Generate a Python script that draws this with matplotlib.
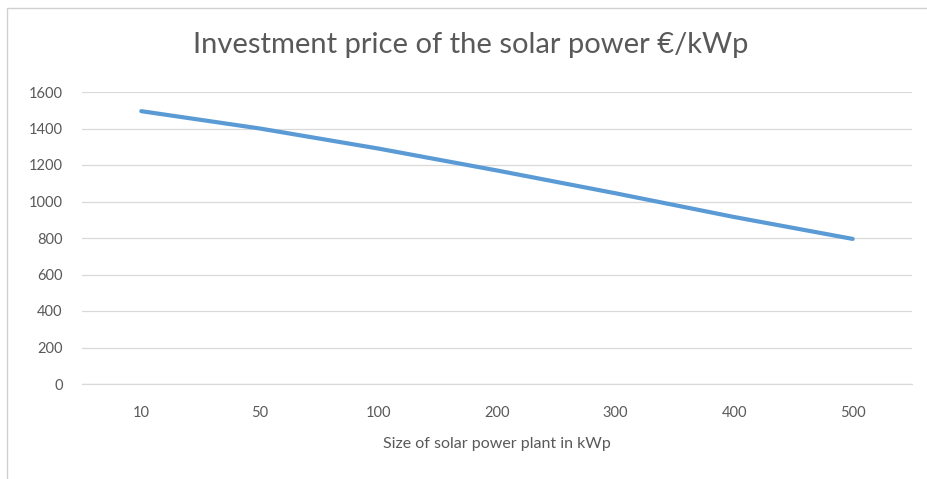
import matplotlib.pyplot as plt
from matplotlib.patches import Rectangle

sizes = ['10', '50', '100', '200', '300', '400', '500']
prices = [1495, 1400, 1290, 1170, 1045, 915, 795]

plt.rcParams['font.family'] = ['Lato', 'DejaVu Sans']

fig = plt.figure(figsize=(9.28, 4.79), dpi=100)
# chart border like excel
fig.patches.append(Rectangle((7 / 928, -0.01), 1.0, 1 - 8 / 479 + 0.01, transform=fig.transFigure,
                             fill=False, edgecolor='#d0d0d0', linewidth=1))

ax = fig.add_axes([82 / 928, 1 - 384 / 479, (912 - 82) / 928, (384 - 92) / 479])
x = range(len(sizes))
ax.plot(x, prices, color='#5b9bd5', linewidth=3.0, solid_capstyle='round')

ax.set_xlim(-0.5, len(sizes) - 0.5)
ax.set_ylim(0, 1600)
ax.set_yticks(range(0, 1601, 200))
ax.set_xticks(list(x))
ax.set_xticklabels(sizes)
ax.grid(axis='y', color='#d9d9d9', linewidth=0.9)
ax.set_axisbelow(True)
for s in ax.spines.values():
    s.set_visible(False)
ax.spines['bottom'].set_visible(True)
ax.spines['bottom'].set_color('#d9d9d9')
ax.spines['bottom'].set_linewidth(0.9)
ax.tick_params(length=0, labelsize=10.5, colors='#595959')
ax.tick_params(axis='x', pad=16)
ax.tick_params(axis='y', pad=14)

ax.set_xlabel('Size of solar power plant in kWp', fontsize=11.5, color='#595959', labelpad=12)
fig.text(471 / 928, 1 - 45 / 479, 'Investment price of the solar power €/kWp',
         ha='center', va='center', fontsize=21, color='#595959')

plt.savefig('out.png', dpi=100)
